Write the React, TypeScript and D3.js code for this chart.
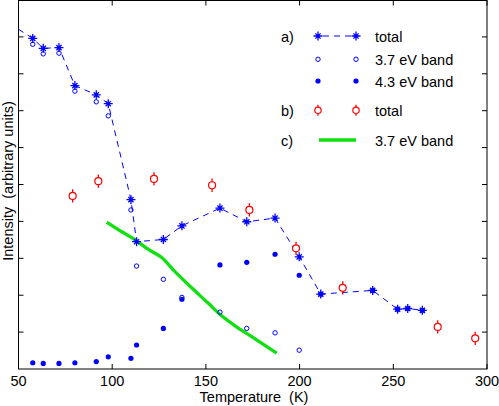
import React, { useEffect, useRef } from "react";
import * as d3 from "d3";

// temperatures (K) of the measured points, series a)
const temps = [57.6, 63.2, 71.6, 80.1, 91.5, 97.9, 110.0, 113.0, 127.3, 137.2, 157.5, 171.8, 186.9, 199.8, 211.3, 239.0, 252.3, 257.7, 265.5];
// a) total (the first point lies left of the axis and is clipped)
const totalTemps = [45, ...temps];
const totalValues = [9.37, 8.96, 8.69, 8.71, 7.68, 7.43, 7.19, 4.59, 3.45, 3.51, 3.88, 4.36, 3.99, 4.09, 3.04, 2.03, 2.13, 1.62, 1.64, 1.59];
// a) 3.7 eV band (only up to 200 K)
const band37Values = [8.8, 8.54, 8.56, 7.53, 7.24, 6.86, 4.31, 2.79, 2.43, 1.94, 1.54, 1.1, 0.98, 0.51];
// a) 4.3 eV band
const band43Values = [0.17, 0.15, 0.15, 0.17, 0.2, 0.33, 0.29, 0.65, 1.1, 1.89, 2.82, 2.89, 3.11, 2.54, 2.03, 2.13, 1.62, 1.64, 1.59];
// b) total, with error bars
const bTemps = [78.9, 92.6, 122.3, 153.3, 173.2, 198.1, 223.0, 273.7, 293.7];
const bValues = [4.69, 5.09, 5.15, 4.98, 4.31, 3.27, 2.2, 1.14, 0.83];
const bError = 0.18;
// c) 3.7 eV band
const cTemps = [97.1, 105.1, 112.2, 119.3, 126.4, 133.5, 142.4, 151.3, 158.4, 165.5, 174.4, 187.8];
const cValues = [3.98, 3.72, 3.5, 3.24, 3.02, 2.64, 2.2, 1.78, 1.44, 1.17, 0.88, 0.43];

const xTicks = [50, 100, 150, 200, 250, 300];
const yTicks = [1, 2, 3, 4, 5, 6, 7, 8, 9];

const BLUE = "#0000ff";
const RED = "#ff0000";
const GREEN = "#10e010";
const FONT = "'Liberation Sans', Arial, Helvetica, sans-serif";

// plus with short diagonals, like the plotting program's "*"
function starPath() {
  const p = d3.path();
  const a = 4.5, b = 2.6;
  p.moveTo(-a, 0); p.lineTo(a, 0);
  p.moveTo(0, -a); p.lineTo(0, a);
  p.moveTo(-b, -b); p.lineTo(b, b);
  p.moveTo(-b, b); p.lineTo(b, -b);
  return p.toString();
}

function Chart() {
  const svgRef = useRef<SVGSVGElement>(null);

  useEffect(() => {
    const svg = d3.select(svgRef.current);
    svg.selectAll("*").remove();

    const left = 18.5, right = 487, top = 0.5, bottom = 369;
    const x = d3.scaleLinear().domain([50, 300]).range([left, right]);
    const y = d3.scaleLinear().domain([0, 10]).range([bottom, 0]);

    svg.append("defs").append("clipPath").attr("id", "plotclip")
      .append("rect").attr("x", left).attr("y", top)
      .attr("width", right - left).attr("height", bottom - top);

    // frame and inward ticks
    const axes = svg.append("g").attr("stroke", "#000").attr("stroke-width", 1).attr("fill", "none");
    axes.append("rect").attr("x", left).attr("y", top)
      .attr("width", right - left).attr("height", bottom - top);
    xTicks.forEach((t) => {
      axes.append("line").attr("x1", x(t)).attr("x2", x(t)).attr("y1", bottom).attr("y2", bottom - 5);
      axes.append("line").attr("x1", x(t)).attr("x2", x(t)).attr("y1", top).attr("y2", top + 5);
    });
    yTicks.forEach((t) => {
      axes.append("line").attr("x1", left).attr("x2", left + 5).attr("y1", y(t)).attr("y2", y(t));
      axes.append("line").attr("x1", right).attr("x2", right - 5).attr("y1", y(t)).attr("y2", y(t));
    });

    svg.append("g").selectAll("text").data(xTicks).enter().append("text")
      .attr("x", (d) => x(d)).attr("y", 386)
      .attr("text-anchor", "middle").attr("font-family", FONT).attr("font-size", 14.5)
      .text((d) => d);

    svg.append("text").attr("x", 254).attr("y", 401.5).attr("text-anchor", "middle")
      .attr("font-family", FONT).attr("font-size", 14.5).text("Temperature\u00a0 (K)");

    svg.append("text").attr("transform", "translate(13,181) rotate(-90)").attr("text-anchor", "middle")
      .attr("font-family", FONT).attr("font-size", 14.5).text("Intensity\u00a0 (arbitrary units)");

    const plot = svg.append("g").attr("clip-path", "url(#plotclip)");

    // c) green curve
    const cLine = d3.line<number>().x((_, i) => x(cTemps[i])).y((d) => y(d)).curve(d3.curveMonotoneX);
    plot.append("path").attr("d", cLine(cValues)).attr("fill", "none")
      .attr("stroke", GREEN).attr("stroke-width", 3.3);

    // a) total dashed line
    const tLine = d3.line<number>().x((_, i) => x(totalTemps[i])).y((d) => y(d));
    plot.append("path").attr("d", tLine(totalValues)).attr("fill", "none")
      .attr("stroke", BLUE).attr("stroke-width", 1).attr("stroke-dasharray", "6,5");

    const star = starPath();
    plot.selectAll(".star").data(totalValues).enter().append("path")
      .attr("transform", (d, i) => `translate(${x(totalTemps[i])},${y(d)})`)
      .attr("d", star).attr("fill", "none").attr("stroke", BLUE).attr("stroke-width", 1.3);

    // a) 3.7 eV band: open circles
    plot.selectAll(".b37").data(band37Values).enter().append("circle")
      .attr("cx", (_, i) => x(temps[i])).attr("cy", (d) => y(d)).attr("r", 2.2)
      .attr("fill", "none").attr("stroke", BLUE).attr("stroke-width", 1);

    // a) 4.3 eV band: filled dots
    plot.selectAll(".b43").data(band43Values).enter().append("circle")
      .attr("cx", (_, i) => x(temps[i])).attr("cy", (d) => y(d)).attr("r", 2.6)
      .attr("fill", BLUE);

    // b) total with error bars
    const bG = plot.selectAll(".bpt").data(bValues).enter().append("g");
    bG.append("line").attr("x1", (_, i) => x(bTemps[i])).attr("x2", (_, i) => x(bTemps[i]))
      .attr("y1", (d) => y(d + bError)).attr("y2", (d) => y(d - bError))
      .attr("stroke", RED).attr("stroke-width", 1.3);
    bG.append("circle").attr("cx", (_, i) => x(bTemps[i])).attr("cy", (d) => y(d)).attr("r", 3.5)
      .attr("fill", "#fff").attr("stroke", RED).attr("stroke-width", 1.2);

    // legend
    const lg = svg.append("g").attr("font-family", FONT).attr("font-size", 14.5);
    const mx1 = 318, mx2 = 356, tx = 375, lx = 281;
    const rows = [36, 59.3, 81, 110.3, 140];

    lg.append("text").attr("x", lx).attr("y", rows[0] + 5.5).text("a)");
    lg.append("text").attr("x", lx).attr("y", rows[3] + 5.5).text("b)");
    lg.append("text").attr("x", lx).attr("y", rows[4] + 5.5).text("c)");
    lg.append("text").attr("x", tx).attr("y", rows[0] + 5.5).text("total");
    lg.append("text").attr("x", tx).attr("y", rows[1] + 5.5).text("3.7 eV band");
    lg.append("text").attr("x", tx).attr("y", rows[2] + 5.5).text("4.3 eV band");
    lg.append("text").attr("x", tx).attr("y", rows[3] + 5.5).text("total");
    lg.append("text").attr("x", tx).attr("y", rows[4] + 5.5).text("3.7 eV band");

    lg.append("line").attr("x1", mx1).attr("x2", mx2).attr("y1", rows[0]).attr("y2", rows[0])
      .attr("stroke", BLUE).attr("stroke-dasharray", "6,5").attr("stroke-dashoffset", -5);
    [mx1, mx2].forEach((mx) => {
      lg.append("path").attr("transform", `translate(${mx},${rows[0]})`).attr("d", star)
        .attr("fill", "none").attr("stroke", BLUE).attr("stroke-width", 1.3);
      lg.append("circle").attr("cx", mx).attr("cy", rows[1]).attr("r", 2.2)
        .attr("fill", "none").attr("stroke", BLUE);
      lg.append("circle").attr("cx", mx).attr("cy", rows[2]).attr("r", 2.6).attr("fill", BLUE);
      lg.append("line").attr("x1", mx).attr("x2", mx).attr("y1", rows[3] - 5.5).attr("y2", rows[3] + 5.5)
        .attr("stroke", RED).attr("stroke-width", 1.3);
      lg.append("circle").attr("cx", mx).attr("cy", rows[3]).attr("r", 3.2)
        .attr("fill", "#fff").attr("stroke", RED).attr("stroke-width", 1.2);
    });
    lg.append("line").attr("x1", mx1 + 1).attr("x2", mx2).attr("y1", rows[4]).attr("y2", rows[4])
      .attr("stroke", GREEN).attr("stroke-width", 3.3);
  }, []);

  return <svg ref={svgRef} width={499} height={406} style={{ display: "block" }} />;
}

export default function App() {
  return (
    <div style={{ position: "absolute", left: 0, top: 0, background: "#fff" }}>
      <Chart />
    </div>
  );
}
